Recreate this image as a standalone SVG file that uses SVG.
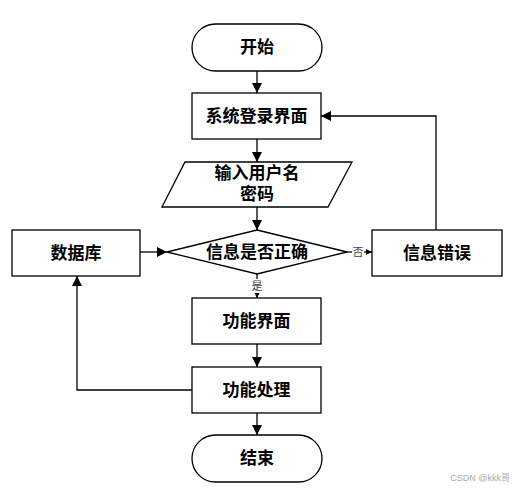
<svg xmlns="http://www.w3.org/2000/svg" width="522" height="492" viewBox="0 0 522 492">
<style>
.s{fill:#fff;stroke:#000;stroke-width:1.3}
.t{font-family:"Liberation Serif","Noto Sans CJK SC",serif;font-size:17px;font-weight:bold;fill:#000;text-anchor:middle;dominant-baseline:central}
.l{font-family:"Liberation Serif","Noto Sans CJK SC",serif;font-size:11px;fill:#444;text-anchor:middle;dominant-baseline:central}
.c{fill:none;stroke:#000;stroke-width:1.3}
</style>
<defs>
<marker id="a" markerWidth="10" markerHeight="10" refX="10" refY="5" orient="auto" markerUnits="userSpaceOnUse"><path d="M0,0L10,5L0,10z" fill="#000"/></marker>
<marker id="b" markerWidth="6" markerHeight="6" refX="6" refY="3" orient="auto" markerUnits="userSpaceOnUse"><path d="M0,0L6,3L0,6z" fill="#000"/></marker>
</defs>
<rect width="522" height="492" fill="#fff"/>
<g id="connectors">
<path class="c" d="M257,71V93" marker-end="url(#a)"/>
<path class="c" d="M257,139V162" marker-end="url(#a)"/>
<path class="c" d="M257,207V230" marker-end="url(#a)"/>
<path class="c" d="M140,252H167" marker-end="url(#a)"/>
<path class="c" d="M347,252H372" marker-end="url(#b)"/>
<path class="c" d="M436,230V116H321" marker-end="url(#a)"/>
<path class="c" d="M257,274V298" marker-end="url(#b)"/>
<path class="c" d="M257,344V367" marker-end="url(#a)"/>
<path class="c" d="M192,390H77V276" marker-end="url(#a)"/>
<path class="c" d="M257,413V435" marker-end="url(#a)"/>
<rect x="352" y="245" width="12" height="14" fill="#fff"/>
<text class="l" x="358" y="252">否</text>
<rect x="250" y="279" width="13" height="14" fill="#fff"/>
<text class="l" x="257" y="286">是</text>
</g>
<g id="start"><rect class="s" x="192" y="24" width="130" height="47" rx="23.5"/><text class="t" x="257" y="47.5">开始</text></g>
<g id="login"><rect class="s" x="192" y="93" width="129" height="46"/><text class="t" x="256.5" y="116">系统登录界面</text></g>
<g id="input"><path class="s" d="M185,162H352L328,207H162z"/><text class="t" x="257" y="173">输入用户名</text><text class="t" x="257" y="194">密码</text></g>
<g id="check"><path class="s" d="M257,230L347,252L257,274L167,252z"/><text class="t" x="257" y="252">信息是否正确</text></g>
<g id="db"><rect class="s" x="12" y="230" width="128" height="46"/><text class="t" x="76" y="253">数据库</text></g>
<g id="error"><rect class="s" x="372" y="230" width="130" height="46"/><text class="t" x="437" y="253">信息错误</text></g>
<g id="func"><rect class="s" x="192" y="298" width="129" height="46"/><text class="t" x="256.5" y="321">功能界面</text></g>
<g id="proc"><rect class="s" x="192" y="367" width="129" height="46"/><text class="t" x="256.5" y="390">功能处理</text></g>
<g id="end"><rect class="s" x="192" y="435" width="130" height="47" rx="23.5"/><text class="t" x="257" y="458.5">结束</text></g>
<text x="510" y="481" font-family="Liberation Sans,'Noto Sans CJK SC',sans-serif" font-size="9" fill="#aaa" text-anchor="end">CSDN @kkk哥</text>
</svg>
